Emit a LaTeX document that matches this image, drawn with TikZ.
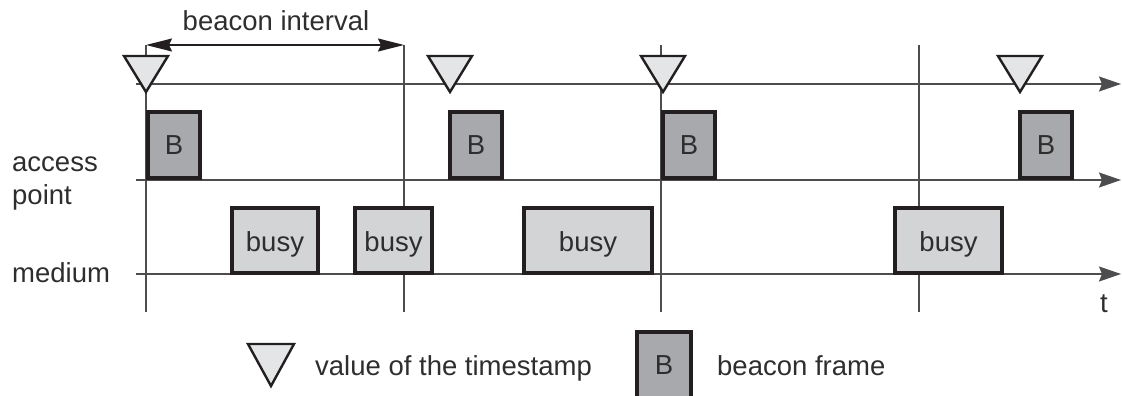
\documentclass[tikz,border=0pt]{standalone}
\usepackage{fontspec}
\setmainfont{Liberation Sans}
\usetikzlibrary{arrows.meta}

\definecolor{ink}{HTML}{231F20}
\definecolor{axis}{HTML}{4D4D4F}
\definecolor{bfill}{HTML}{A7A9AC}
\definecolor{busyfill}{HTML}{D3D4D6}
\definecolor{stampfill}{HTML}{E4E5E6}
\definecolor{txt}{HTML}{2E2E2E}

\begin{document}
\begin{tikzpicture}[x=1pt,y=-1pt,
  font=\fontsize{27.5}{33}\selectfont,
  timeline/.style={draw=axis, line width=1.6pt,
    -{Stealth[length=22pt,width=15pt,inset=3pt]}},
  marker/.style={draw=axis, line width=1.3pt},
  span/.style={draw=ink, line width=1.5pt,
    {Stealth[length=26pt,width=13pt,inset=3pt]}-{Stealth[length=26pt,width=13pt,inset=3pt]}},
  frame/.style={draw=ink, line width=4pt, fill=bfill, text=txt,
    minimum width=52pt, minimum height=66pt, inner sep=0pt,
    text height=19.5pt, text depth=0pt},
  busybox/.style={draw=ink, line width=4pt, fill=busyfill, text=txt,
    minimum height=65pt, inner sep=0pt, text height=21.5pt, text depth=0pt},
  stamp/.style={draw=ink, line width=2.4pt, fill=stampfill, line join=miter},
  lbl/.style={text=txt, inner sep=0pt}
]
\useasboundingbox (0,0) rectangle (1122,396);

% time axes
\coordinate (ts0) at (136,84);   \coordinate (ts1) at (1121,84);
\coordinate (ap0) at (136,180);  \coordinate (ap1) at (1121,180);
\coordinate (md0) at (136,274);  \coordinate (md1) at (1121,274);

% beacon interval markers
\foreach \n/\x in {m1/146, m2/404, m3/661, m4/919} {
  \coordinate (\n top) at (\x,45);
  \coordinate (\n bot) at (\x,312);
}
\foreach \n in {m1,m2,m3,m4} \draw[marker] (\n top) -- (\n bot);

\draw[timeline] (ts0) -- (ts1);
\draw[timeline] (ap0) -- (ap1);
\draw[timeline] (md0) -- (md1);

% beacon interval dimension
\draw[span] (m1top) -- (m2top);
\node[lbl, anchor=base] (bi) at (276,31) {beacon interval};

% timestamps
\foreach \x in {146, 450, 663, 1020}
  \draw[stamp] (\x-22,56) -- (\x+22,56) -- (\x,92) -- cycle;

% beacon frames
\node[frame] (b1) at (174,145) {B};
\node[frame] (b2) at (476,145) {B};
\node[frame] (b3) at (689,145) {B};
\node[frame] (b4) at (1046,145) {B};

% busy periods on the medium
\node[busybox, minimum width=86pt]  (u1) at (275,240.5) {busy};
\node[busybox, minimum width=77pt]  (u2) at (393.5,240.5) {busy};
\node[busybox, minimum width=128pt] (u3) at (588,240.5) {busy};
\node[busybox, minimum width=107pt] (u4) at (948.5,240.5) {busy};

% row labels
\node[lbl, anchor=base west] (la1) at (12,171) {access};
\node[lbl, anchor=base west] (la2) at (12,204) {point};
\node[lbl, anchor=base west] (lm) at (12,282) {medium};
\node[lbl, anchor=base] (lt) at (1104,312) {t};

% legend
\draw[stamp] (248,344) -- (294,344) -- (271,386) -- cycle;
\node[lbl, anchor=base west] (lg1) at (315,375) {value of the timestamp};
\node[frame, minimum width=54pt] (lgb) at (664,365) {B};
\node[lbl, anchor=base west] (lg2) at (717,375) {beacon frame};
\end{tikzpicture}
\end{document}
